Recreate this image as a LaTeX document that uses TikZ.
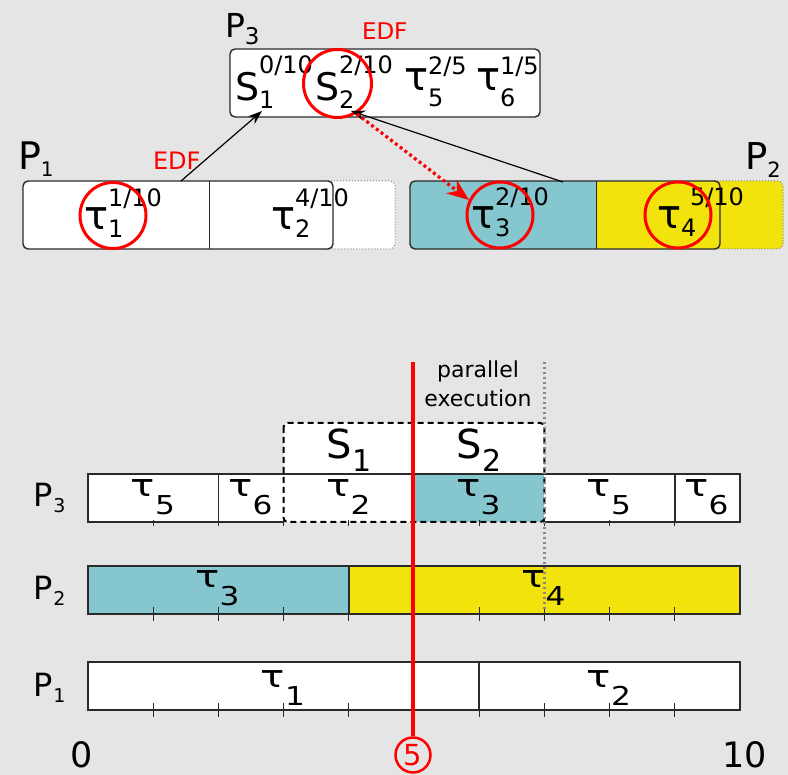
\documentclass[tikz,border=0pt]{standalone}
\usepackage{fontspec}
\setmainfont{DejaVu Sans}
\usetikzlibrary{arrows.meta}
\definecolor{bg}{HTML}{E5E5E5}
\definecolor{tealc}{HTML}{85C6CF}
\definecolor{yelc}{HTML}{F2E30C}
\definecolor{edgec}{HTML}{2A2A2A}
\definecolor{dotc}{HTML}{888888}
\newcommand\fs[1]{\fontsize{#1}{#1}\selectfont}
\newcommand\lsub[3]{\raisebox{-#2pt}{\fs{#1}#3}}
\newcommand\wt[1]{\scalebox{1.3}[1]{τ}\scalebox{1.2}[1]{\lsub{26}{18}{#1}}}
\tikzset{
  txt/.style={inner sep=0pt, outer sep=0pt},
  topbox/.style={draw=edgec, line width=1.4pt, fill=white, rounded corners=5pt},
  extbox/.style={draw=gray, dotted, line width=1pt, rounded corners=5pt},
  cellline/.style={draw=edgec, line width=1.5pt},
  tickline/.style={draw=edgec, line width=1.3pt},
  mark circle/.style={draw=red, line width=3pt},
  blkarrow/.style={draw=black, line width=1.2pt, -{Stealth[length=14pt,width=10pt]}},
  redarrow/.style={draw=red, line width=3.2pt, dash pattern=on 3pt off 3pt, -{Stealth[length=22pt,width=17pt,inset=7pt]}},
  celltxt/.style={txt, anchor=base, font=\fs{31}},
}
\begin{document}
\begin{tikzpicture}[x=1pt,y=-1pt]
\fill[bg] (0,0) rectangle (788,775);
\useasboundingbox (0,0) rectangle (788,775);

% ---------- top: P3 box ----------
\draw[topbox] (230,49) rectangle (540,117);
\node[txt, anchor=base west, font=\fs{33}] (p3lab) at (225,38) {P\lsub{23}{7}{3}};
\node[txt, anchor=base west, font=\fs{23}, text=red] (edf1) at (362,40) {EDF};
\node[txt, anchor=base west, font=\fs{38}] (s1t) at (235,101) {S\rlap{\lsub{24}{8}{1}}\lsub{24}{-27}{0/10}};
\node[txt, anchor=base west, font=\fs{38}] (s2t) at (315,101) {S\rlap{\lsub{24}{8}{2}}\lsub{24}{-27}{2/10}};
\node[txt, anchor=base west, font=\fs{40}] (t5t) at (404,91) {τ\rlap{\lsub{24}{16}{5}}\lsub{24}{-16}{2/5}};
\node[txt, anchor=base west, font=\fs{40}] (t6t) at (476,91) {τ\rlap{\lsub{24}{16}{6}}\lsub{24}{-16}{1/5}};

% ---------- top: P1 box ----------
\draw[extbox, fill=white] (318,181) rectangle (395,249);
\draw[topbox] (23,181) rectangle (333,249);
\draw[cellline, line width=1pt] (209,181) -- (209,249);
\node[txt, anchor=base west, font=\fs{38}] (p1lab) at (18,170) {P\lsub{20}{7}{1}};
\node[txt, anchor=base west, font=\fs{24}, text=red] (edf2) at (153,170) {EDF};
\node[txt, anchor=base west, font=\fs{40}] (t1t) at (84,230) {τ\rlap{\lsub{24}{8}{1}}\lsub{24}{-23}{1/10}};
\node[txt, anchor=base west, font=\fs{40}] (t2t) at (271,230) {τ\rlap{\lsub{24}{8}{2}}\lsub{24}{-23}{4/10}};

% ---------- top: P2 box ----------
\draw[extbox, fill=yelc] (705,181) rectangle (783,249);
\begin{scope}
  \clip[rounded corners=5pt] (410,181) rectangle (720,249);
  \fill[tealc] (410,181) rectangle (596,249);
  \fill[yelc] (596,181) rectangle (720,249);
\end{scope}
\draw[topbox, fill=none] (410,181) rectangle (720,249);
\draw[cellline, line width=1pt] (596,181) -- (596,249);
\node[txt, anchor=base west, font=\fs{37}] (p2lab) at (745,170) {P\lsub{21}{8}{2}};
\node[txt, anchor=base west, font=\fs{40}] (t3t) at (471,229) {τ\rlap{\lsub{24}{8}{3}}\lsub{24}{-23}{2/10}};
\node[txt, anchor=base west, font=\fs{40}] (t4t) at (657,229) {τ\rlap{\lsub{24}{8}{4}}\hspace{9pt}\lsub{24}{-23}{5/10}};

% red marking circles
\draw[mark circle] (113,215.5) circle[radius=33pt];
\draw[mark circle] (337.5,83.5) circle[radius=34pt];
\draw[mark circle] (500,215) circle[radius=33pt];
\draw[mark circle] (678,215) circle[radius=33pt];

% arrows
\coordinate (a1s) at (181,181);
\coordinate (a1e) at (262,111);
\coordinate (a2s) at (563,182);
\coordinate (a2e) at (351,111);
\coordinate (a3s) at (357,114);
\coordinate (a3e) at (469,200);
\draw[blkarrow] (a1s) -- (a1e);
\draw[blkarrow] (a2s) -- (a2e);
\draw[redarrow] (a3s) -- (a3e);

% ---------- bottom: schedule ----------
\fill[white, rounded corners=4pt] (283.6,423) rectangle (544.4,522);
\fill[white] (88,474) rectangle (283.6,522);
\fill[tealc] (414,474) rectangle (544.4,522);
\fill[white] (544.4,474) rectangle (740,522);
\draw[cellline] (283.6,522) -- (88,522) -- (88,474) -- (740,474) -- (740,522) -- (544.4,522);
\draw[cellline] (218.4,474) -- (218.4,522);
\draw[cellline] (674.8,474) -- (674.8,522);
\foreach \t in {1,...,9} \draw[tickline] ({88+65.2*\t},520) -- ({88+65.2*\t},526);
\draw[black, line width=2pt, dash pattern=on 6pt off 4pt, rounded corners=4pt] (283.6,423) rectangle (544.4,522);

% P2 row
\fill[tealc] (88,566) rectangle (348.8,614);
\fill[yelc] (348.8,566) rectangle (740,614);
\draw[cellline] (88,566) rectangle (740,614);
\draw[cellline, line width=2pt] (348.8,566) -- (348.8,614);
\foreach \t in {1,...,9} \draw[tickline] ({88+65.2*\t},607) -- ({88+65.2*\t},621);

% P1 row
\fill[white] (88,662) rectangle (740,710);
\draw[cellline] (88,662) rectangle (740,710);
\draw[cellline] (479.2,662) -- (479.2,710);
\foreach \t in {1,...,9} \draw[tickline] ({88+65.2*\t},703) -- ({88+65.2*\t},717);

% row labels
\node[txt, anchor=base west, font=\fs{32}] (r3) at (34,507) {P\lsub{19}{6}{3}};
\node[txt, anchor=base west, font=\fs{32}] (r2) at (34,600) {P\lsub{19}{6}{2}};
\node[txt, anchor=base west, font=\fs{32}] (r1) at (34,696) {P\lsub{19}{6}{1}};

% cell texts
\node[txt, anchor=base, font=\fs{40}] (bs1) at (349,459) {S\lsub{30}{13}{1}};
\node[txt, anchor=base, font=\fs{40}] (bs2) at (479,459) {S\lsub{30}{13}{2}};
\node[celltxt] (c35) at (153,497) {\wt{5}};
\node[celltxt] (c36) at (250.5,497) {\wt{6}};
\node[celltxt] (c32) at (348.5,497) {\wt{2}};
\node[celltxt] (c33) at (478.5,497) {\wt{3}};
\node[celltxt] (c35b) at (609,497) {\wt{5}};
\node[celltxt] (c36b) at (706.5,497) {\wt{6}};
\node[celltxt] (c23) at (217.5,588) {\wt{3}};
\node[celltxt] (c24) at (543.5,588) {\wt{4}};
\node[celltxt] (c11) at (283,687) {\wt{1}};
\node[celltxt] (c12) at (609,687) {\wt{2}};

% parallel execution
\node[txt, anchor=base, font=\fs{22}] (pe1) at (478,378) {parallel};
\node[txt, anchor=base, font=\fs{22}] (pe2) at (478,407) {execution};
\coordinate (gtop) at (544.4,362);
\coordinate (gbot) at (544.4,612);
\draw[dotc, line width=2.5pt, dash pattern=on 2.5pt off 2.5pt] (gtop) -- (gbot);

% axis numbers and red time marker
\node[txt, anchor=base, font=\fs{35}] (n0) at (82,767) {0};
\node[txt, anchor=base, font=\fs{35}] (n10) at (745,767) {10};
\node[circle, draw=red, line width=2.5pt, minimum size=35pt, inner sep=0pt, text=red, font=\fs{29}] (c5) at (413,755) {5};
\coordinate (rtop) at (413,362);
\draw[red, line width=3.5pt] (rtop) -- (c5.north);
\end{tikzpicture}
\end{document}
